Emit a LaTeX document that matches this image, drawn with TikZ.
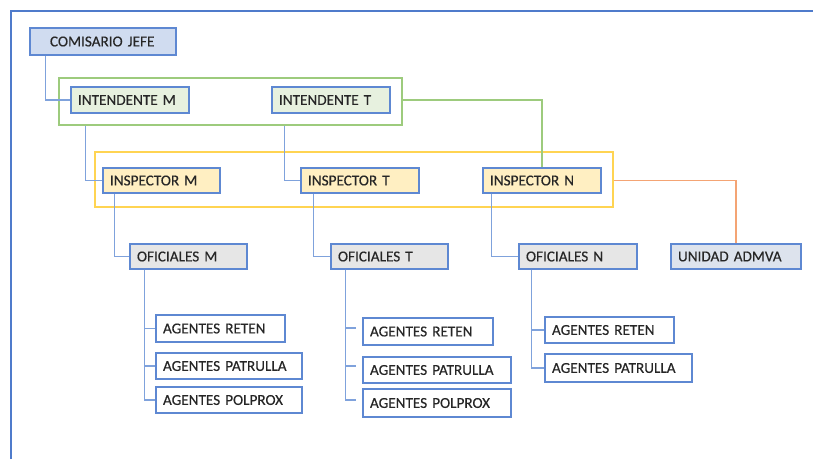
\documentclass[tikz,border=0pt]{standalone}
\usepackage{fontspec}
\setmainfont{Carlito}
\newfontfamily\boxfont{Carlito}[FakeBold=0.35]
\usetikzlibrary{calc}
\definecolor{bordblue}{HTML}{5E88D2}
\definecolor{linkblue}{HTML}{7FA2DC}
\definecolor{outerblue}{HTML}{4F7BCB}
\definecolor{frgreen}{HTML}{9DCB7D}
\definecolor{fryellow}{HTML}{FFD452}
\definecolor{orangeln}{HTML}{F4A474}
\definecolor{fillcom}{HTML}{D0DCF0}
\definecolor{fillint}{HTML}{E7F1DF}
\definecolor{fillins}{HTML}{FFEFC2}
\definecolor{fillofi}{HTML}{E6E6E6}
\definecolor{filluni}{HTML}{DDE3ED}
\tikzset{
  box/.style={draw=bordblue, line width=1.2pt, font=\boxfont\fontsize{15.2}{17}\selectfont,
    text=black!85, inner xsep=7pt, inner ysep=0pt, align=left, anchor=center},
  frame/.style={draw, line width=1.2pt, inner sep=0pt, anchor=center},
  link/.style={draw=linkblue, line width=1.2pt},
}
\begin{document}
\begin{tikzpicture}[x=1pt,y=-1pt]
\useasboundingbox (0,0) rectangle (813,459);
\draw[outerblue, line width=1.6pt] (11,459) -- (11,11) -- (813,11);
% frames
\node[frame, draw=frgreen, minimum width=343pt, minimum height=47pt] (gf) at (230.5,101.5) {};
\node[frame, draw=fryellow, minimum width=518pt, minimum height=55pt] (yf) at (354,179.5) {};
% boxes
\node[box, fill=fillcom, text width=132pt, minimum height=27pt] (com) at (103,41.5) {\hspace*{13pt}COMISARIO JEFE};
\node[box, fill=fillint, text width=104pt, minimum height=26pt] (intM) at (130,100) {INTENDENTE M};
\node[box, fill=fillint, text width=104pt, minimum height=26pt] (intT) at (331,100) {INTENDENTE T};
\node[box, fill=fillins, text width=103pt, minimum height=25pt] (insM) at (161.5,180.5) {INSPECTOR M};
\node[box, fill=fillins, text width=104pt, minimum height=25pt] (insT) at (360,180.5) {INSPECTOR T};
\node[box, fill=fillins, text width=104pt, minimum height=25pt] (insN) at (542,180.5) {INSPECTOR N};
\node[box, fill=fillofi, text width=103pt, minimum height=25pt] (ofM) at (188.5,256.5) {OFICIALES M};
\node[box, fill=fillofi, text width=103pt, minimum height=25pt] (ofT) at (389.5,256.5) {OFICIALES T};
\node[box, fill=fillofi, text width=104pt, minimum height=25pt] (ofN) at (578,256.5) {OFICIALES N};
\node[box, fill=filluni, text width=116pt, minimum height=25pt] (uni) at (736,256.5) {UNIDAD ADMVA};
\node[box, fill=white, text width=115pt, minimum height=27pt] (aMr) at (220.5,328.5) {AGENTES RETEN};
\node[box, fill=white, text width=132pt, minimum height=26pt] (aMp) at (229,366) {AGENTES PATRULLA};
\node[box, fill=white, text width=132pt, minimum height=26pt] (aMo) at (229,400) {AGENTES POLPROX};
\node[box, fill=white, text width=116pt, minimum height=27pt] (aTr) at (428,331.5) {AGENTES RETEN};
\node[box, fill=white, text width=134pt, minimum height=26pt] (aTp) at (437,370) {AGENTES PATRULLA};
\node[box, fill=white, text width=134pt, minimum height=28pt] (aTo) at (437,403) {AGENTES POLPROX};
\node[box, fill=white, text width=115pt, minimum height=26pt] (aNr) at (609.5,330) {AGENTES RETEN};
\node[box, fill=white, text width=133pt, minimum height=28pt] (aNp) at (618.5,368) {AGENTES PATRULLA};
% anchor coordinates for vertical lines
\coordinate (cC) at ($(com.south west)+(16,0)$);
\coordinate (cIM) at ($(intM.south west)+(15,0)$);
\coordinate (cIT) at ($(intT.south west)+(13,0)$);
\coordinate (cSM) at ($(insM.south west)+(12,0)$);
\coordinate (cST) at ($(insT.south west)+(13,0)$);
\coordinate (cSN) at ($(insN.south west)+(9,0)$);
\coordinate (cOM) at ($(ofM.south west)+(15,0)$);
\coordinate (cOT) at ($(ofT.south west)+(15,0)$);
\coordinate (cON) at ($(ofN.south west)+(13,0)$);
% connectors
\draw[link] (cC) |- (intM.west);
\draw[link] (cIM |- gf.south) |- (insM.west);
\draw[link] (cIT |- gf.south) |- (insT.west);
\draw[frgreen, line width=1.2pt] (gf.east |- intT.east) -| (insN.north);
\draw[orangeln, line width=1.2pt] (yf.east |- insN.east) -| (uni.north);
\draw[link] (cSM) |- (ofM.west);
\draw[link] (cST) |- (ofT.west);
\draw[link] (cSN) |- (ofN.west);
\draw[link] (cOM) |- (aMr.west);
\draw[link] (cOM) |- (aMp.west);
\draw[link] (cOM) |- (aMo.west);
\draw[link, shorten >=6pt] (cOT) |- ([yshift=3.5pt]aTr.west);
\draw[link, shorten >=6pt] (cOT) |- ([yshift=4pt]aTp.west);
\draw[link, shorten >=6pt] (cOT) |- ([yshift=3pt]aTo.west);
\draw[link] (cON) |- (aNr.west);
\draw[link] (cON) |- (aNp.west);
\end{tikzpicture}
\end{document}
